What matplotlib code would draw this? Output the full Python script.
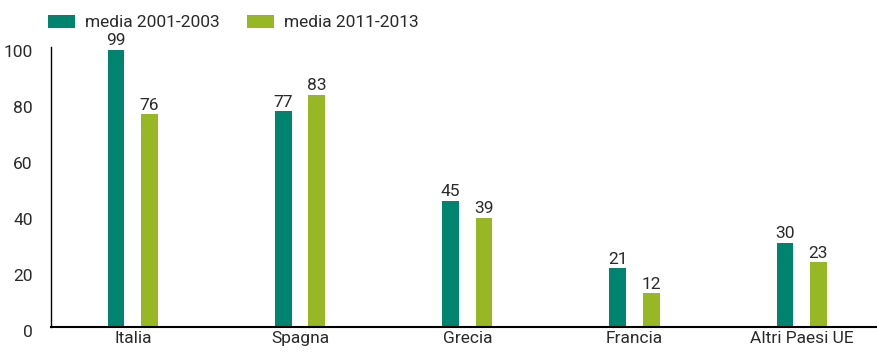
import matplotlib.pyplot as plt
import matplotlib.transforms as mtransforms
import numpy as np

plt.rcParams['font.family'] = ['Roboto', 'DejaVu Sans']

paesi = ["Italia", "Spagna", "Grecia", "Francia", "Altri Paesi UE"]
media_2001_2003 = [99, 77, 45, 21, 30]
media_2011_2013 = [76, 83, 39, 12, 23]

teal = "#00836F"
green = "#97B725"
txt = "#2a2a2a"

fig = plt.figure(figsize=(8.77, 3.53), dpi=100)
ax = fig.add_axes([0.058, 0.0745, 0.942, 0.7924])

x = np.arange(len(paesi))
w = 0.1
b1 = ax.bar(x - w, media_2001_2003, w, color=teal, label="media 2001-2003")
b2 = ax.bar(x + w, media_2011_2013, w, color=green, label="media 2011-2013")

for bars in (b1, b2):
    ax.bar_label(bars, padding=1, fontsize=12.5, color=txt)

ax.set_xlim(-0.49, 4.45)
ax.set_ylim(0, 100)
ax.set_yticks([0, 20, 40, 60, 80, 100])
ax.set_xticks(x)
ax.set_xticklabels(paesi)
ax.tick_params(axis='both', length=0, labelsize=12.5, colors=txt)
ax.tick_params(axis='y', pad=13)
ax.tick_params(axis='x', pad=3)

# y labels sit a little below their gridline values
shift = mtransforms.ScaledTranslation(0, -4 / 100, fig.dpi_scale_trans)
for lab in ax.get_yticklabels():
    lab.set_transform(lab.get_transform() + shift)

for s in ("top", "right"):
    ax.spines[s].set_visible(False)
ax.spines["left"].set_linewidth(1.0)
ax.spines["bottom"].set_linewidth(1.5)

fig.legend(handles=[b1, b2], loc="center left",
           bbox_to_anchor=(48 / 877, 1 - 22.5 / 353), ncol=2, frameon=False,
           fontsize=12.5, handlelength=1.55, handleheight=0.75,
           columnspacing=1.6, handletextpad=0.57, borderpad=0,
           borderaxespad=0, labelcolor=txt)

fig.savefig("out.png", dpi=100)
